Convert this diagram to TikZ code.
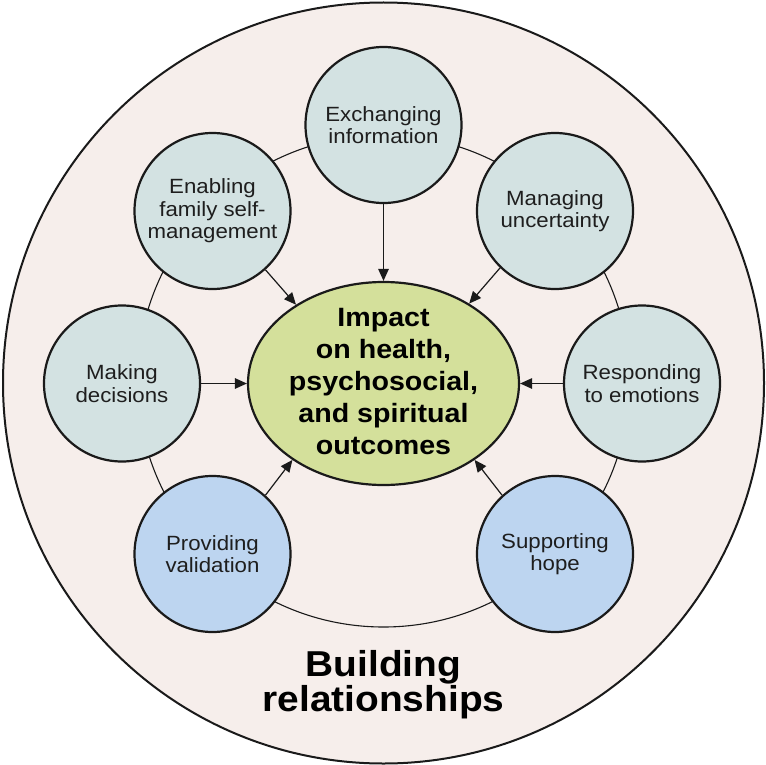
\documentclass[tikz,border=0pt]{standalone}
\usepackage{fontspec}
\newfontfamily\lab[FakeStretch=1.08]{Liberation Sans}
\usetikzlibrary{shapes.geometric,arrows.meta}
\definecolor{bgpink}{HTML}{F6EEEB}
\definecolor{cyanfill}{HTML}{D3E2E2}
\definecolor{bluefill}{HTML}{BDD5F0}
\definecolor{greenfill}{HTML}{D4E09B}
\definecolor{txt}{HTML}{1E1E1E}
\definecolor{edge}{HTML}{1A1A1A}
\begin{document}
\begin{tikzpicture}[x=1pt,y=-1pt,
  topic/.style={circle, draw=edge, line width=2.2pt, minimum size=156pt, inner sep=0pt,
    align=center, text=txt, font=\lab\fontsize{20.6}{22.5}\selectfont},
  cyantopic/.style={topic, fill=cyanfill},
  bluetopic/.style={topic, fill=bluefill},
  arr/.style={draw=edge, line width=1.2pt, -{Triangle[length=12pt,width=10.5pt]}},
  ringline/.style={draw=edge, line width=1.1pt}]
\useasboundingbox (0,0) rectangle (765,765);
\fill[white] (0,0) rectangle (765,765);
\draw[fill=bgpink, draw=edge, line width=2pt] (383.5,383) circle (380.5);
\draw[ringline] (383.5,381) circle (246);

\node[cyantopic] (ex) at (383.5,125) {Exchanging\\information};
\node[cyantopic] (en) at (212.5,211) {Enabling\\family self-\\management};
\node[cyantopic] (ma) at (555,211) {Managing\\uncertainty};
\node[cyantopic] (mk) at (122,383.5) {Making\\decisions};
\node[cyantopic] (re) at (642,383.5) {Responding\\to emotions};
\node[bluetopic] (pv) at (212.5,554) {Providing\\validation};
\node[bluetopic] (su) at (555,554) {Supporting\\hope};

\node[ellipse, fill=greenfill, draw=edge, line width=2.2pt, minimum width=271pt,
  minimum height=203pt, inner sep=0pt] (imp) at (383.5,383.5) {};
\node[font=\lab\bfseries\fontsize{26.5}{32}\selectfont, align=center, text=black]
  (imptxt) at (383.5,381.5) {Impact\\on health,\\psychosocial,\\and spiritual\\outcomes};

\draw[arr] (ex) -- (imp);
\draw[arr] (en.-48.8) -- (imp.138.5);
\draw[arr] (ma.226.7) -- (imp.43);
\draw[arr] (mk) -- (imp);
\draw[arr] (re) -- (imp);
\draw[arr] (pv.48) -- (imp.220.7);
\draw[arr] (su.132) -- (imp.-40.2);

\node[font=\lab\bfseries\fontsize{36}{35}\selectfont, align=center, text=black]
  (br) at (383.5,685) {Building\\relationships};
\end{tikzpicture}
\end{document}
